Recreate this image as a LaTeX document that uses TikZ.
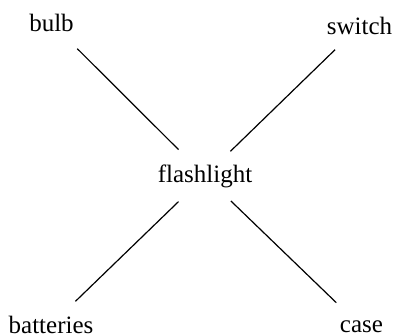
\documentclass[tikz,border=0pt]{standalone}
\usepackage{fontspec}
\setmainfont{Liberation Serif}
\begin{document}
\begin{tikzpicture}[x=1pt,y=1pt,
  lbl/.style={inner sep=0pt,font=\fontsize{12.5}{15}\selectfont},
  link/.style={line width=0.6pt}]
\useasboundingbox (0,0) rectangle (199,168);
\node[lbl] (bulb) at (25.75,156.5) {bulb};
\node[lbl] (switch) at (179.75,155) {switch};
\node[lbl] (fl) at (102.5,80) {flashlight};
\node[lbl] (batteries) at (25.5,5.5) {batteries};
\node[lbl] (case) at (180.75,4.5) {case};
\draw[link, shorten <=18.2pt, shorten >=18.7pt] (bulb.center) -- (fl.center);
\draw[link, shorten <=17pt, shorten >=17.7pt] (switch.center) -- (fl.center);
\draw[link, shorten <=17pt, shorten >=18.4pt] (batteries.center) -- (fl.center);
\draw[link, shorten <=17.5pt, shorten >=18pt] (case.center) -- (fl.center);
\end{tikzpicture}
\end{document}
